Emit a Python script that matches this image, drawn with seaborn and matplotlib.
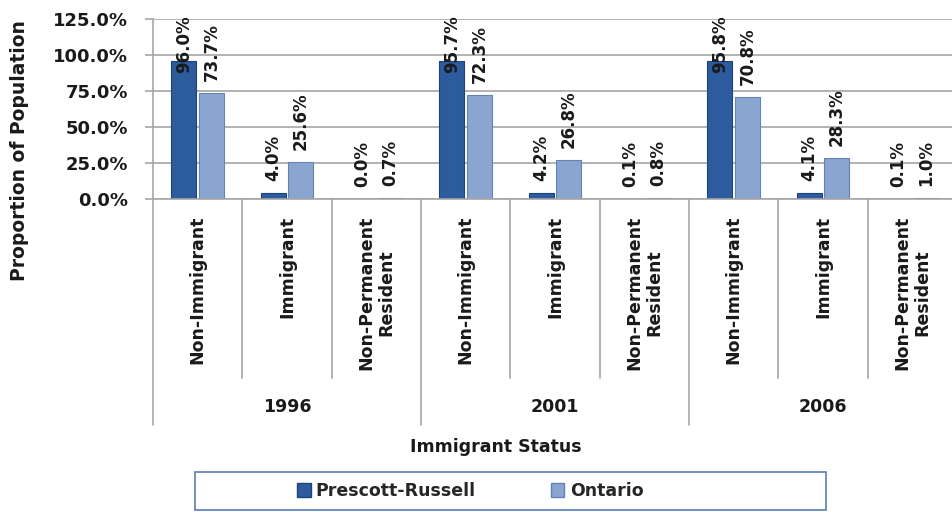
import numpy as np
import pandas as pd
import seaborn as sns
import matplotlib.pyplot as plt
from matplotlib.patches import Rectangle, Patch

# --- data ---
years = ['1996', '2001', '2006']
statuses = ['Non-Immigrant', 'Immigrant', 'Non-Permanent\nResident']
regions = ['Prescott-Russell', 'Ontario']
prescott = [96.0, 4.0, 0.0, 95.7, 4.2, 0.1, 95.8, 4.1, 0.1]
ontario = [73.7, 25.6, 0.7, 72.3, 26.8, 0.8, 70.8, 28.3, 1.0]
yticks = [0, 25, 50, 75, 100, 125]

slots = [f"{y}|{s}" for y in years for s in statuses]
df = pd.DataFrame({
    'slot': slots * 2,
    'region': [regions[0]] * len(slots) + [regions[1]] * len(slots),
    'value': prescott + ontario,
})

sns.set_theme(style='white')
plt.rcParams['font.family'] = ['DejaVu Sans']

colors = {'Prescott-Russell': '#2c5c9e', 'Ontario': '#8aa5d0'}
edges = {'Prescott-Russell': '#1e4379', 'Ontario': '#6582b3'}
grid_c = '#a6a6a6'
txt_c = '#1a1a1a'
fs = 12.5

fig = plt.figure(figsize=(9.52, 5.12), dpi=100)
ax = fig.add_axes([153 / 952, 313 / 512, 804 / 952, 180 / 512])

sns.barplot(data=df, x='slot', y='value', hue='region', order=slots,
            hue_order=regions, palette=colors, saturation=1, width=0.62,
            gap=0.09, legend=False, ax=ax)

ax.set_xlim(-0.5, len(slots) - 0.5)
ax.set_ylim(0, 125)
ax.set_yticks(yticks)
ax.set_yticklabels([f"{v:.1f}%" for v in yticks], fontsize=13, fontweight='bold')
ax.set_xticks([])
ax.set_xlabel('')
ax.set_ylabel('')
ax.yaxis.grid(True, color=grid_c, lw=1.2)
ax.set_axisbelow(True)
for side in ['top', 'right']:
    ax.spines[side].set_visible(False)
for side in ['left', 'bottom']:
    ax.spines[side].set_color(grid_c)
    ax.spines[side].set_linewidth(1.2)
ax.tick_params(axis='y', left=True, length=6, width=1.2, color=grid_c, pad=12,
               labelcolor=txt_c)

# bar edges
n = len(slots)
for k, p in enumerate(ax.patches):
    p.set_edgecolor(edges[regions[k // n]])
    p.set_linewidth(0.8)

# data labels above bars
labels = []
for p in ax.patches:
    cx = p.get_x() + p.get_width() / 2
    h = p.get_height()
    t = ax.annotate(f"{h:.1f}%", xy=(cx, h), xytext=(0, 12),
                    textcoords='offset pixels', rotation=90, ha='center',
                    va='bottom', fontsize=12, fontweight='bold',
                    color=txt_c, annotation_clip=False)
    labels.append((t, cx))

fig.canvas.draw()
ax_top = ax.get_window_extent().y1
for t, cx in labels:
    bb = t.get_window_extent()
    if bb.y1 > ax_top + 4:
        t.xy = (cx, 125)
        t.set_position((0, 4))
        t.set_va('top')

# category axis with group separators
trans = ax.get_xaxis_transform()
for b in np.arange(-0.5, n, 1.0):
    depth = -1.256 if int(b + 0.5) % 3 == 0 else -0.994
    ax.plot([b, b], [0, depth], transform=trans, clip_on=False,
            color=grid_c, lw=1.2)

for i, s in enumerate(slots):
    ax.text(i, -0.094, s.split('|')[1], transform=trans, rotation=90,
            ha='center', va='top', multialignment='center',
            fontsize=fs, fontweight='bold', color=txt_c)

for g, y in enumerate(years):
    ax.text(g * 3 + 1, -1.156, y, transform=trans, ha='center', va='center',
            fontsize=fs, fontweight='bold', color=txt_c)

fig.text(20 / 952, 1 - 151 / 512, 'Proportion of Population', rotation=90,
         ha='center', va='center', fontsize=13.5, fontweight='bold',
         color=txt_c)
fig.text(496 / 952, 1 - 447 / 512, 'Immigrant Status', ha='center',
         va='center', fontsize=fs, fontweight='bold', color=txt_c)

# legend
handles = [Patch(facecolor=colors[r], edgecolor=edges[r]) for r in regions]
fig.legend(handles, regions, loc='center', bbox_to_anchor=(470 / 952, 1 - 491 / 512),
           ncol=2, frameon=False, columnspacing=4.3, handlelength=0.8,
           handleheight=0.8, handletextpad=0.3,
           prop={'size': fs, 'weight': 'bold'})
fig.patches.append(Rectangle((195 / 952, 2 / 512), (826 - 195) / 952, 38 / 512,
                             transform=fig.transFigure, fill=False,
                             edgecolor='#5b7db5', lw=1.2))

fig.savefig('out.png', dpi=100)
